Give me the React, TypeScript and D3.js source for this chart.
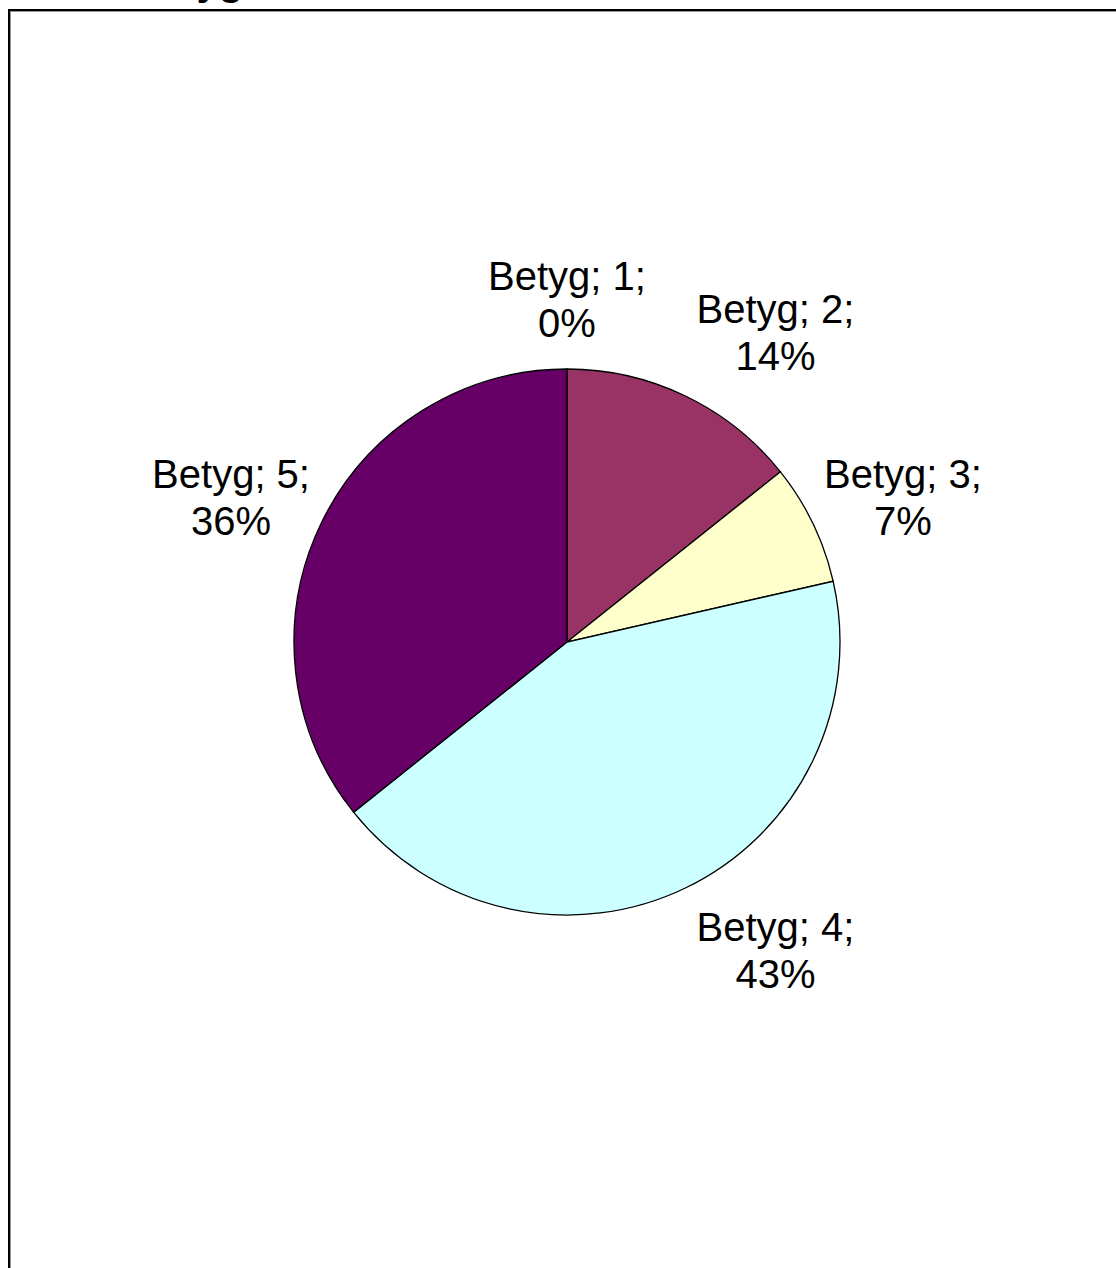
import React from "react";
import * as d3 from "d3";

const categories = ["Betyg; 1;", "Betyg; 2;", "Betyg; 3;", "Betyg; 4;", "Betyg; 5;"];
const counts = [0, 2, 1, 6, 5];
const percentLabels = ["0%", "14%", "7%", "43%", "36%"];
const colors = ["#9999FF", "#993366", "#FFFFCC", "#CCFFFF", "#660066"];
const title = "Betyg";

const W = 1116;
const H = 1268;
const cx = 567;
const cy = 642;
const R = 273;
const FONT = "'Liberation Sans', Arial, sans-serif";

export default function App() {
  const pie = d3.pie<number>().sort(null).value((d) => d);
  const arcs = pie(counts);
  const arcGen = d3.arc<d3.PieArcDatum<number>>().innerRadius(0).outerRadius(R);

  return (
    <svg
      width={W}
      height={H}
      style={{ position: "absolute", left: 0, top: 0, background: "#fff" }}
    >
      <text x={132} y={-5} fontFamily={FONT} fontWeight="bold" fontSize={40} fill="#000">
        {title}
      </text>
      <rect x={9} y={10} width={W + 20} height={H + 20} fill="#fff" stroke="#000" strokeWidth={2} />
      <rect x={10.5} y={11.5} width={W + 20} height={H + 20} fill="none" stroke="#999" strokeWidth={1} />
      <g transform={`translate(${cx},${cy})`}>
        {arcs.map((a, i) => (
          <path key={i} d={arcGen(a) || ""} fill={colors[i]} stroke="#000" strokeWidth={1.3} />
        ))}
      </g>
      {arcs.map((a, i) => {
        const mid = (a.startAngle + a.endAngle) / 2;
        const s = Math.sin(mid);
        const c = Math.cos(mid);
        const ax = cx + R * s;
        const ay = cy - R * c;
        const offX = 90 * Math.max(-1, Math.min(1, s * 3));
        const offY = -c * 66 + (c > 0.8 ? -4 : 3);
        const lx = ax + offX;
        const m = ay + offY;
        const b1 = m - 9.5;
        return (
          <text key={i} x={lx} textAnchor="middle" fontFamily={FONT} fontSize={40} fill="#000">
            <tspan x={lx} y={b1}>{categories[i]}</tspan>
            <tspan x={lx} y={b1 + 47}>{percentLabels[i]}</tspan>
          </text>
        );
      })}
    </svg>
  );
}
